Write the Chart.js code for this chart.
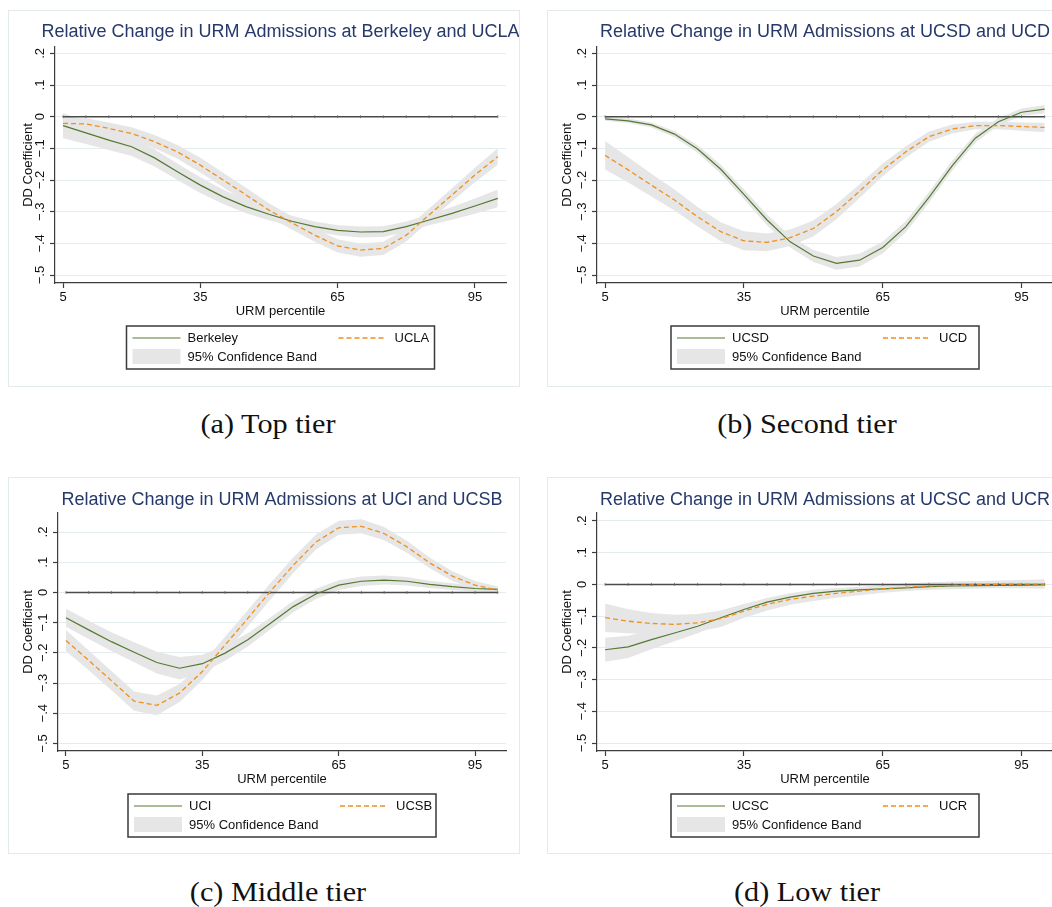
<!DOCTYPE html>
<html>
<head>
<meta charset="utf-8">
<script src="https://cdn.jsdelivr.net/npm/chart.js@4.4.1/dist/chart.umd.min.js"></script>
<style>
body { margin: 0; background: #fff; width: 1052px; height: 907px; overflow: hidden; position: relative; }
.panel { position: absolute; height: 377px; border: 1px solid #e3eaec; box-sizing: border-box; background: #fff; }
.panel .wrap { position: absolute; left: 0; top: 0; right: 0; bottom: 0; }
.cap { position: absolute; font-family: "Liberation Serif", "Times New Roman", serif; font-size: 27px; line-height: 30px; color: #111; transform: translateX(-50%) scaleX(1.12); white-space: nowrap; }
</style>
</head>
<body>

<div class="panel" style="left:8px;top:10px;width:512px"><div class="wrap"><canvas id="pa"></canvas></div></div>
<div class="panel" style="left:547px;top:10px;width:520px"><div class="wrap"><canvas id="pb"></canvas></div></div>
<div class="panel" style="left:8px;top:477px;width:512px"><div class="wrap"><canvas id="pc"></canvas></div></div>
<div class="panel" style="left:547px;top:477px;width:520px"><div class="wrap"><canvas id="pd"></canvas></div></div>

<div class="cap" style="left:268px;top:409px">(a) Top tier</div>
<div class="cap" style="left:807px;top:409px">(b) Second tier</div>
<div class="cap" style="left:278px;top:877px">(c) Middle tier</div>
<div class="cap" style="left:807px;top:877px">(d) Low tier</div>

<script>
// URM percentile grid
var xPct = [5,10,15,20,25,30,35,40,45,50,55,60,65,70,75,80,85,90,95,100];
var xTicks = [5,35,65,95];
var yTicks = [-0.5,-0.4,-0.3,-0.2,-0.1,0,0.1,0.2];
var yTickLabels = ['\u2212.5','\u2212.4','\u2212.3','\u2212.2','\u2212.1','0','.1','.2'];

// (a) top tier
var berkeley   = [-0.028,-0.051,-0.074,-0.095,-0.13,-0.174,-0.216,-0.253,-0.284,-0.308,-0.33,-0.347,-0.359,-0.364,-0.363,-0.347,-0.326,-0.305,-0.282,-0.258];
var berkeleyCI = [0.04,0.035,0.031,0.029,0.027,0.026,0.025,0.023,0.021,0.019,0.017,0.016,0.016,0.017,0.017,0.016,0.017,0.02,0.024,0.028];
var ucla       = [-0.021,-0.023,-0.037,-0.053,-0.079,-0.111,-0.153,-0.2,-0.247,-0.295,-0.335,-0.374,-0.408,-0.421,-0.416,-0.374,-0.31,-0.247,-0.184,-0.126];
var uclaCI     = [0.018,0.018,0.019,0.02,0.021,0.022,0.023,0.023,0.023,0.022,0.021,0.021,0.021,0.021,0.021,0.02,0.02,0.021,0.023,0.026];

// (b) second tier
var ucsd   = [-0.007,-0.013,-0.026,-0.055,-0.102,-0.166,-0.245,-0.326,-0.395,-0.44,-0.463,-0.453,-0.413,-0.347,-0.255,-0.155,-0.068,-0.016,0.014,0.024];
var ucsdCI = [0.006,0.007,0.008,0.01,0.012,0.014,0.016,0.017,0.018,0.019,0.02,0.02,0.019,0.018,0.017,0.016,0.014,0.012,0.012,0.013];
var ucd    = [-0.122,-0.168,-0.216,-0.263,-0.316,-0.363,-0.392,-0.397,-0.382,-0.353,-0.3,-0.235,-0.168,-0.111,-0.063,-0.039,-0.028,-0.028,-0.031,-0.034];
var ucdCI  = [0.045,0.04,0.036,0.033,0.031,0.03,0.03,0.028,0.026,0.025,0.024,0.022,0.02,0.018,0.016,0.014,0.012,0.012,0.013,0.015];

// (c) middle tier
var uci    = [-0.084,-0.124,-0.163,-0.198,-0.232,-0.251,-0.236,-0.201,-0.157,-0.102,-0.047,-0.005,0.024,0.037,0.041,0.037,0.027,0.019,0.013,0.01];
var uciCI  = [0.03,0.03,0.031,0.033,0.036,0.037,0.03,0.025,0.022,0.02,0.019,0.017,0.016,0.016,0.015,0.014,0.012,0.011,0.01,0.01];
var ucsb   = [-0.159,-0.225,-0.292,-0.36,-0.374,-0.333,-0.262,-0.174,-0.086,0.004,0.09,0.167,0.214,0.219,0.195,0.151,0.098,0.054,0.024,0.008];
var ucsbCI = [0.035,0.033,0.032,0.032,0.033,0.03,0.028,0.027,0.027,0.027,0.026,0.025,0.023,0.023,0.022,0.02,0.018,0.016,0.014,0.012];

// (d) low tier
var ucsc   = [-0.206,-0.197,-0.174,-0.153,-0.132,-0.105,-0.079,-0.056,-0.04,-0.028,-0.021,-0.017,-0.014,-0.011,-0.007,-0.005,-0.004,-0.003,-0.002,-0.001];
var ucscCI = [0.038,0.035,0.03,0.026,0.022,0.018,0.015,0.013,0.012,0.011,0.01,0.009,0.009,0.008,0.008,0.008,0.008,0.008,0.008,0.008];
var ucr    = [-0.105,-0.116,-0.123,-0.126,-0.121,-0.108,-0.084,-0.063,-0.047,-0.037,-0.028,-0.021,-0.014,-0.009,-0.005,-0.003,-0.001,0,0.001,0.001];
var ucrCI  = [0.045,0.038,0.033,0.03,0.028,0.026,0.022,0.019,0.017,0.015,0.014,0.013,0.012,0.012,0.012,0.012,0.012,0.012,0.013,0.015];

var GREEN = '#547a30', ORANGE = '#f0901e', BAND = '#e6e6e6', AXIS = '#3c3c3c';
var SANS = '"Liberation Sans", Arial, sans-serif';

function pts(arr) { return xPct.map(function(x, i) { return {x: x, y: arr[i]}; }); }
function band(mid, ci, s) { return xPct.map(function(x, i) { return {x: x, y: mid[i] + s * ci[i]}; }); }

// title + boxed legend, Stata style
var decor = {
    id: 'decor',
    afterDraw: function(chart, args, o) {
        var ctx = chart.ctx, a = chart.chartArea;
        var cx = (a.left + a.right) / 2;
        ctx.save();
        ctx.font = '18px ' + SANS;
        ctx.fillStyle = '#26396a';
        ctx.textAlign = 'center';
        ctx.textBaseline = 'middle';
        ctx.fillText(o.title, cx, o.titleY);

        var w = 308, h = 43, x0 = cx - w / 2, y0 = a.bottom + 43;
        ctx.strokeStyle = '#3a3a3a';
        ctx.lineWidth = 1.5;
        ctx.strokeRect(x0, y0, w, h);

        var dsA = chart.data.datasets[1], dsB = chart.data.datasets[0];
        ctx.font = '13px ' + SANS;
        ctx.fillStyle = '#111';
        ctx.textAlign = 'left';
        // series A
        ctx.strokeStyle = dsA.borderColor; ctx.lineWidth = 1.2; ctx.setLineDash([]);
        ctx.beginPath(); ctx.moveTo(x0 + 6, y0 + 12); ctx.lineTo(x0 + 54, y0 + 12); ctx.stroke();
        ctx.fillText(dsA.label, x0 + 61, y0 + 12);
        // series B
        ctx.strokeStyle = dsB.borderColor; ctx.lineWidth = 1.3; ctx.setLineDash([5, 3]);
        ctx.beginPath(); ctx.moveTo(x0 + 212, y0 + 12); ctx.lineTo(x0 + 260, y0 + 12); ctx.stroke();
        ctx.setLineDash([]);
        ctx.fillText(dsB.label, x0 + 268, y0 + 12);
        // band
        ctx.fillStyle = BAND;
        ctx.fillRect(x0 + 6, y0 + 23, 48, 15);
        ctx.fillStyle = '#111';
        ctx.fillText('95% Confidence Band', x0 + 61, y0 + 31);
        ctx.restore();
    }
};

function panel(id, o) {
    var ctx = document.getElementById(id).getContext('2d');
    return new Chart(ctx, {
        type: 'line',
        data: {
            datasets: [
                {label: o.nameB, data: pts(o.midB), borderColor: ORANGE, borderWidth: 1.3, borderDash: [5, 3], pointRadius: 0, fill: false},
                {label: o.nameA, data: pts(o.midA), borderColor: GREEN, borderWidth: 1.2, pointRadius: 0, fill: false},
                {label: 'zero', data: xPct.map(function(x) { return {x: x, y: 0}; }), borderColor: '#4a4a4a', borderWidth: 1.5,
                    pointStyle: 'line', rotation: 90, pointRadius: 1.5, pointBorderColor: '#666', pointBorderWidth: 0.8, fill: false},
                {label: 'hiB', data: band(o.midB, o.ciB, 1), borderColor: 'rgba(0,0,0,0)', borderWidth: 0, pointRadius: 0, fill: false},
                {label: 'loB', data: band(o.midB, o.ciB, -1), borderColor: 'rgba(0,0,0,0)', borderWidth: 0, pointRadius: 0, fill: '-1', backgroundColor: BAND},
                {label: 'hiA', data: band(o.midA, o.ciA, 1), borderColor: 'rgba(0,0,0,0)', borderWidth: 0, pointRadius: 0, fill: false},
                {label: 'loA', data: band(o.midA, o.ciA, -1), borderColor: 'rgba(0,0,0,0)', borderWidth: 0, pointRadius: 0, fill: '-1', backgroundColor: BAND}
            ]
        },
        options: {
            responsive: true,
            maintainAspectRatio: false,
            animation: false,
            events: [],
            elements: {line: {tension: 0}},
            layout: {padding: {top: o.top, right: 13, bottom: 375 - o.axisY - 36, left: 0}},
            scales: {
                x: {
                    type: 'linear', min: 3.25, max: 101.8,
                    afterBuildTicks: function(s) { s.ticks = xTicks.map(function(v) { return {value: v}; }); },
                    afterFit: function(s) { s.height = 36; },
                    ticks: {font: {size: 13, family: SANS}, color: '#111', padding: 2, maxRotation: 0},
                    grid: {drawOnChartArea: false, tickLength: 5, tickColor: AXIS, tickWidth: 1.2},
                    border: {color: AXIS, width: 1.2},
                    title: {display: true, text: 'URM percentile', font: {size: 13, family: SANS}, color: '#111', padding: 0}
                },
                y: {
                    type: 'linear', min: -0.525, max: o.yMax,
                    afterBuildTicks: function(s) { s.ticks = yTicks.map(function(v) { return {value: v}; }); },
                    afterFit: function(s) { s.width = o.yW; },
                    ticks: {
                        font: {size: 13, family: SANS}, color: '#111', padding: 0,
                        minRotation: 90, maxRotation: 90, crossAlign: 'center',
                        callback: function(v) { return yTickLabels[yTicks.indexOf(Math.round(v * 10) / 10)]; }
                    },
                    grid: {color: '#e3edf0', lineWidth: 1, tickLength: 5, tickColor: AXIS, tickWidth: 1.2},
                    border: {color: AXIS, width: 1.2},
                    title: {display: true, text: 'DD Coefficient', font: {size: 13, family: SANS}, color: '#111', padding: {top: 12, bottom: 0}}
                }
            },
            plugins: {
                legend: {display: false},
                tooltip: {enabled: false},
                decor: {title: o.title, titleY: o.titleY}
            }
        },
        plugins: [decor]
    });
}

panel('pa', {title: 'Relative Change in URM Admissions at Berkeley and UCLA', titleY: 21, top: 36, axisY: 272, yW: 46, yMax: 0.22,
    nameA: 'Berkeley', midA: berkeley, ciA: berkeleyCI, nameB: 'UCLA', midB: ucla, ciB: uclaCI});
panel('pb', {title: 'Relative Change in URM Admissions at UCSD and UCD', titleY: 21, top: 36, axisY: 272, yW: 49, yMax: 0.22,
    nameA: 'UCSD', midA: ucsd, ciA: ucsdCI, nameB: 'UCD', midB: ucd, ciB: ucdCI});
panel('pc', {title: 'Relative Change in URM Admissions at UCI and UCSB', titleY: 22, top: 35, axisY: 273, yW: 49, yMax: 0.263,
    nameA: 'UCI', midA: uci, ciA: uciCI, nameB: 'UCSB', midB: ucsb, ciB: ucsbCI});
panel('pd', {title: 'Relative Change in URM Admissions at UCSC and UCR', titleY: 22, top: 35, axisY: 273, yW: 49, yMax: 0.225,
    nameA: 'UCSC', midA: ucsc, ciA: ucscCI, nameB: 'UCR', midB: ucr, ciB: ucrCI});
</script>
</body>
</html>
